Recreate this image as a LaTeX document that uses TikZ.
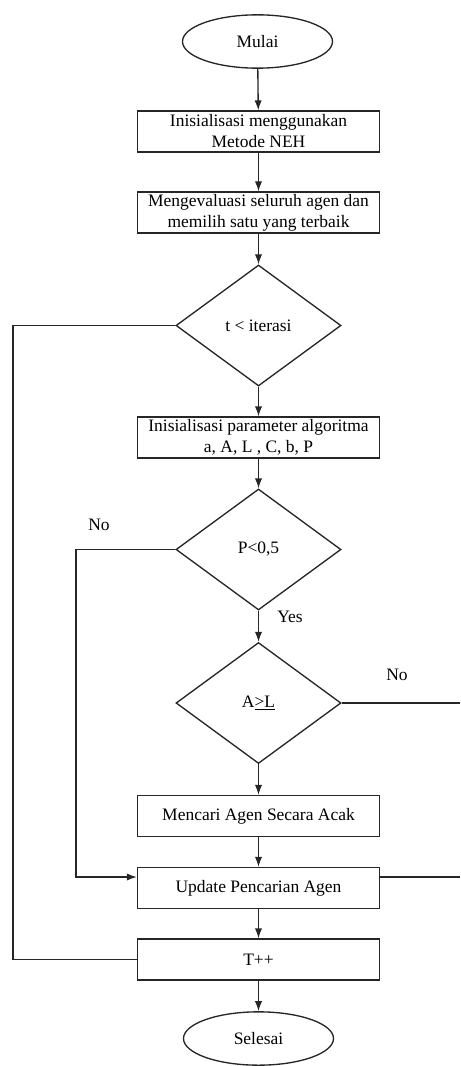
\documentclass[tikz,border=0pt]{standalone}
\usepackage{fontspec}
\setmainfont{Liberation Serif}
\usetikzlibrary{shapes.geometric,arrows.meta}
\begin{document}
\begin{tikzpicture}[x=0.75pt,y=-0.75pt,
  every node/.style={font=\fontsize{13.1}{15.75}\selectfont, text=black},
  line/.style={draw=black!85, line width=1pt},
  arr/.style={line, -{Latex[length=7.5pt,width=5.5pt]}},
  termbox/.style={ellipse, line, minimum width=112.5pt, minimum height=40pt, inner sep=0pt},
  procbox/.style={rectangle, line, minimum width=181.5pt, minimum height=30.75pt, inner sep=0pt, align=center},
  decbox/.style={diamond, line, minimum width=123.75pt, minimum height=90.75pt, inner sep=0pt, aspect=1.36},
  lbl/.style={inner sep=0pt}]
\useasboundingbox (0,0) rectangle (460,1066);
\node[termbox] (start) at (257.5,41.5) {Mulai};
\node[procbox] (b1) at (258.5,131.5) {Inisialisasi menggunakan\\Metode NEH};
\node[procbox] (b2) at (258.5,212.5) {Mengevaluasi seluruh agen dan\\memilih satu yang terbaik};
\node[decbox] (d1) at (258.5,325.5) {t < iterasi};
\node[procbox] (b3) at (258.5,437.5) {Inisialisasi parameter algoritma\\a, A, L , C, b, P};
\node[decbox] (d2) at (258.5,549.5) {P<0,5};
\node[decbox] (d3) at (258.5,703) {A\underline{>L}};
\node[procbox] (b4) at (258.5,816) {Mencari Agen Secara Acak};
\node[procbox] (b5) at (258.5,888) {Update Pencarian Agen};
\node[procbox] (b6) at (258.5,959.5) {T++};
\node[termbox] (end) at (258.5,1038.5) {Selesai};

\node[lbl] (no1) at (99,525) {No};
\node[lbl] (yes) at (290,617) {Yes};
\node[lbl] (no2) at (397,675) {No};

\coordinate (l1) at (13,325.5);
\coordinate (l2) at (76,549.5);
\coordinate (r1) at (460,703);
\coordinate (r2) at (460,877);
\coordinate (b5in) at (b5.west |- 0,877);
\coordinate (b5out) at (b5.east |- 0,877);

\draw[arr] (start) -- (b1);
\draw[arr] (b1) -- (b2);
\draw[arr] (b2) -- (d1);
\draw[arr] (d1) -- (b3);
\draw[arr] (b3) -- (d2);
\draw[arr] (d2) -- (d3);
\draw[arr] (d3) -- (b4);
\draw[arr] (b4) -- (b5);
\draw[arr] (b5) -- (b6);
\draw[arr] (b6) -- (end);

\draw[line] (d1.west) -- (l1) |- (b6.west);
\draw[arr] (d2.west) -- (l2) |- (b5in);
\draw[line] (d3.east) -- (r1);
\draw[line] (b5out) -- (r2);
\end{tikzpicture}
\end{document}
